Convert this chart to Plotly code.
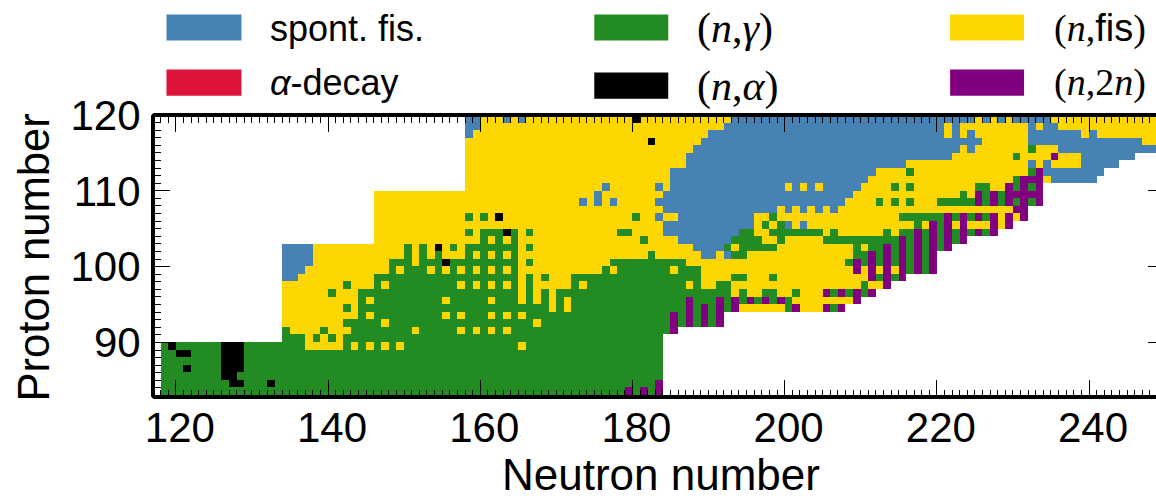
import plotly.graph_objects as go

reaction_codes = {"B": 0, "R": 1, "G": 2, "K": 3, "Y": 4, "P": 5}
reaction_colors = ["#4682B4", "#DC143C", "#228B22", "#000000", "#FFD700", "#800080"]
neutron_numbers = list(range(117, 250))
proton_numbers = list(range(119, 82, -1))

# one row per proton number (119 down to 83): "<first N><reaction>", "." = no data
dominant_channel_runs = [
    "158B 160Y 163B 164Y 165B 166Y 180K 181Y 193B 225Y 226B 227Y 228B 229Y 230B 235Y",
    "158B 160Y 192B 221Y 222B 223Y 232B 233Y 234B 236Y",
    "158B 159Y 190B 221Y 222B 223Y 224B 225Y 232B 239Y 240B 241Y",
    "158Y 182K 183Y 189B 226Y 232B 247Y",
    "158Y 188B 223Y 224B 225Y 232G 233Y 236B",
    "158Y 187B 222Y 230G 231Y 235P 236Y 239B 246.",
    "158Y 187B 216Y 232B 233Y 234B 235Y 239B 244.",
    "158Y 185B 212Y 216G 217Y 232G 233P 234B 242.",
    "158Y 185B 211Y 230G 231P 234Y 235B 241.",
    "158Y 176B 177Y 183B 184Y 185B 200Y 201B 202Y 203B 204Y 205B 210Y 214G 215Y 216G 217Y 225G 227Y 229P 230G 231P 232G 233P 234.",
    "146Y 175B 176Y 184B 209Y 223G 224Y 225P 226G 227P 228G 229P 234.",
    "146Y 173B 174Y 175B 176Y 177B 178Y 183B 208Y 212G 213Y 214G 215Y 216G 217Y 220G 225P 226G 227P 228G 229P 230G 231P 232G 233P 234.",
    "146Y 184B 199Y 200B 201Y 202B 203Y 204B 205Y 206B 207Y 230P 232.",
    "146Y 158G 159Y 160G 161Y 162K 163Y 180G 181Y 183B 184Y 186B 196Y 198G 199Y 215G 221P 222G 223P 224G 225P 226G 227P 228Y 229P 230Y 231P 232.",
    "146Y 184B 196Y 197G 198Y 199G 200B 201Y 202B 203Y 217G 218Y 219P 220G 221P 222Y 223P 224Y 227P 228Y 229P 230.",
    "146Y 158G 159Y 160G 163K 164G 165Y 166G 167Y 178G 180Y 184B 194G 196Y 198G 205Y 206G 207Y 213G 214Y 215G 217P 218G 219P 220G 221P 222G 223P 224G 225P 226G 227P 228.",
    "146Y 160G 161Y 162G 163Y 164G 165Y 181G 182Y 186B 193G 197Y 199G 200Y 205G 215P 216G 217P 218G 219P 220G 221P 222G 223P 224.",
    "134B 138Y 150G 151Y 152G 153Y 154K 155Y 156G 157Y 158G 165Y 166G 167Y 188B 192G 193Y 194G 199Y 209G 210Y 211G 213P 214G 215P 216G 217P 218G 219P 220G 221P 222.",
    "134B 138Y 150G 151Y 152G 153Y 154G 155Y 158G 159Y 160G 161Y 162G 163Y 164G 165Y 182G 183Y 189B 191Y 192B 193G 195Y 209G 211P 212G 213P 214G 215P 216G 217P 218G 219P 220.",
    "134B 138Y 148G 151Y 152G 155K 156G 165Y 166G 167Y 177G 187Y 208G 209P 210G 211P 212G 213P 214G 215P 216G 217P 218G 219P 220.",
    "134B 137Y 148G 149Y 150G 153Y 154G 155Y 156G 157Y 158G 159Y 160G 161Y 162G 163Y 164G 165Y 176G 177Y 178G 185Y 186G 189Y 209P 210Y 211P 212Y 213P 214Y 215P 216G 217P 218G 219P 220.",
    "134B 136Y 146G 165Y 166G 167Y 168G 169Y 172G 189Y 193G 195Y 198G 199Y 211P 212G 213P 214G 215P 216.",
    "134Y 142G 143Y 146G 147Y 148G 157Y 158G 159Y 160G 161Y 162G 163Y 164G 165Y 166G 167Y 172G 173Y 174G 187Y 188G 189Y 191G 193Y 210G 211Y 213P 214.",
    "134Y 140G 141Y 144G 165Y 166G 167Y 168G 169Y 170G 193Y 194G 195Y 197G 199Y 201G 202Y 205P 206G 207P 208G 209P 210G 211P 212.",
    "134Y 144G 145Y 146G 155Y 156G 161Y 162G 165Y 166G 167Y 168G 169Y 170G 171Y 172G 187P 188G 191P 192G 193P 194G 195P 196G 197P 198G 199P 200G 201Y 209P 210.",
    "134Y 142G 143Y 144G 169Y 170G 171Y 172G 187P 188G 189P 190G 191P 192G 193P 194Y 200G 201P 202Y 205P 206G 207P 208.",
    "134Y 144G 145Y 146G 155Y 156G 157Y 158G 161Y 162G 163Y 164G 165Y 166G 185P 186G 187P 188G 189P 190G 191P 192.",
    "134Y 142G 147Y 148G 167Y 168G 185P 186G 187P 188G 189P 190G 191P 192.",
    "134G 135Y 139G 140Y 143G 151Y 152G 157Y 158G 159Y 160G 161Y 162G 163Y 164G 185P 186.",
    "134G 137Y 138G 139Y 140G 141Y 142G 184.",
    "118G 119K 120G 126K 129G 137Y 142G 143Y 144G 145Y 146G 147Y 148G 149Y 150G 165Y 166G 184.",
    "118G 120K 122G 126K 129G 184.",
    "118G 126K 129G 184.",
    "118G 121K 122G 126K 129G 184.",
    "118G 126K 128G 184.",
    "118G 127K 129G 132K 133G 183P 184.",
    "118G 179P 180G 181P 182G 183P 184.",
]

legend_labels = [
    "spont. fis.",
    "<i>α</i>-decay",
    "(<i>n</i>,<i>γ</i>)",
    "(<i>n</i>,<i>α</i>)",
    "(<i>n</i>,<span style=\"font-family:'Liberation Sans'\">fis</span>)",
    "(<i>n</i>,2<i>n</i>)",
]


def expand(runs):
    row = [None] * len(neutron_numbers)
    parts = [(int(p[:-1]), p[-1]) for p in runs.split()]
    for i, (start, code) in enumerate(parts):
        stop = parts[i + 1][0] if i + 1 < len(parts) else neutron_numbers[-1] + 1
        if code != ".":
            for n in range(start, stop):
                row[n - neutron_numbers[0]] = reaction_codes[code]
    return row


z = [expand(r) for r in dominant_channel_runs]

W, H = 1156, 499
L, T, B = 152.5, 115.3, 396.7


def px(x):
    return (x - L) / (W - L)


def py(y):
    return (B - y) / (B - T)


scale = []
for i, c in enumerate(reaction_colors):
    scale += [[i / 6, c], [(i + 1) / 6, c]]

fig = go.Figure()
fig.add_trace(go.Heatmap(
    x=[n + 0.5 for n in neutron_numbers], y=[p + 0.5 for p in proton_numbers], z=z,
    zmin=0, zmax=6, colorscale=scale, showscale=False, hoverinfo="skip",
))
fig.add_trace(go.Scatter(x=[None], y=[None], yaxis="y2", showlegend=False))

shapes = []
# frame
for x0, y0, x1, y1 in [(0, 0, 1, 0), (0, 1, 1, 1), (0, 0, 0, 1)]:
    shapes.append(dict(type="line", xref="paper", yref="paper", x0=x0, y0=y0, x1=x1, y1=y1,
                       line=dict(color="black", width=4), layer="above"))
annotations = []
# legend
legend_slots = [
    (166, 241, 15, 41, 268, 29, "Liberation Sans", 36),
    (166, 241, 70, 96, 268, 83, "Liberation Sans", 36),
    (594, 668, 15, 41, 695, 29, "Liberation Serif", 42),
    (594, 668, 73, 99, 695, 87, "Liberation Serif", 42),
    (950, 1024, 15, 41, 1052, 29, "Liberation Serif", 38),
    (950, 1024, 70, 96, 1052, 83, "Liberation Serif", 38),
]
patch_colors = [reaction_colors[i] for i in (0, 1, 2, 3, 4, 5)]
for (x0, x1, y0, y1, tx, ty, fam, fs), c, lab in zip(legend_slots, patch_colors, legend_labels):
    shapes.append(dict(type="rect", xref="paper", yref="paper", x0=px(x0), x1=px(x1), y0=py(y0), y1=py(y1),
                       fillcolor=c, line=dict(width=0)))
    annotations.append(dict(xref="paper", yref="paper", x=px(tx), y=py(ty), xanchor="left", yanchor="middle",
                            text=lab, showarrow=False, font=dict(family=fam, size=fs, color="black")))

# axis titles
annotations.append(dict(xref="paper", yref="paper", x=px(661), y=py(474), xanchor="center", yanchor="middle",
                        text="Neutron number", showarrow=False, font=dict(size=44)))
annotations.append(dict(xref="paper", yref="paper", x=px(33), y=py(258), xanchor="center", yanchor="middle",
                        text="Proton number", showarrow=False, textangle=-90, font=dict(size=43.6)))

fig.update_layout(
    width=W, height=H, margin=dict(l=L, r=0, t=T, b=H - B, autoexpand=False),
    paper_bgcolor="white", plot_bgcolor="white", showlegend=False,
    font=dict(family="Liberation Sans", color="black"),
    shapes=shapes, annotations=annotations,
    xaxis=dict(range=[117, 248.8], tick0=120, dtick=20, ticks="inside", ticklen=17, tickwidth=1.2,
               tickcolor="black", showgrid=False, zeroline=False, showline=True, linewidth=1, linecolor="black",
               mirror="ticks", tickfont=dict(size=42), ticklabelstandoff=-6, ticklabelshift=4,
               minor=dict(dtick=1, tick0=120, ticks="inside", ticklen=7.5, tickwidth=1.2, tickcolor="black", showgrid=False)),
    yaxis=dict(range=[82.8, 120], tick0=90, dtick=10, ticks="inside", ticklen=17, tickwidth=1.2,
               tickcolor="black", showgrid=False, zeroline=False, showline=True, linewidth=1, linecolor="black",
               tickfont=dict(size=42), ticklabelstandoff=3,
               minor=dict(dtick=1, tick0=90, ticks="inside", ticklen=7.5, tickwidth=1.2, tickcolor="black", showgrid=False)),
    yaxis2=dict(range=[82.8, 120], overlaying="y", side="right", anchor="x", tick0=90, dtick=10, ticks="inside",
                ticklen=8, tickwidth=1.2, tickcolor="black", showticklabels=False, showgrid=False, zeroline=False),
)

fig.write_html("out.html", config={"displayModeBar": False},
               post_script="document.body.style.margin='0';document.body.style.overflow='hidden';")
